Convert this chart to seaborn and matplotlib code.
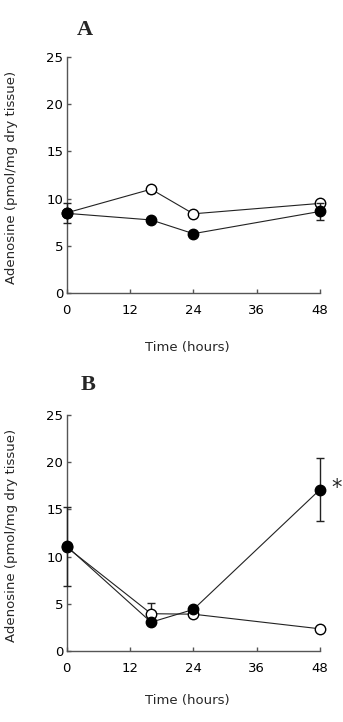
"""Adenosine content over time, panels A and B."""

import matplotlib

matplotlib.use("Agg")
import matplotlib.pyplot as plt
import pandas as pd
import seaborn as sns

# time points (hours)
time_h = [0, 16, 24, 48]

# panel A
a_open = [8.5, 11.0, 8.4, 9.5]
a_open_err = [0.3, 0.35, 0.3, 0.3]
a_filled = [8.45, 7.75, 6.3, 8.65]
a_filled_err = [1.05, 0.2, 0.2, 0.9]

# panel B
b_open = [11.0, 3.95, 3.9, 2.35]
b_open_err = [0.3, 1.1, 0.2, 0.2]
b_filled = [11.1, 3.05, 4.4, 17.1]
b_filled_err = [4.2, 0.2, 0.2, 3.35]

x_ticks = [0, 12, 24, 36, 48]
y_ticks = [0, 5, 10, 15, 20, 25]

sns.set_style("ticks")
plt.rcParams["font.family"] = ["DejaVu Sans"]

W, H = 343, 722
FS = 9.5
fig = plt.figure(figsize=(W / 100, H / 100), dpi=100)


def draw_panel(ax, open_vals, open_err, filled_vals, filled_err, xlab_y):
    df = pd.DataFrame(
        {"time": time_h, "open": open_vals, "filled": filled_vals}
    )
    # open series first, filled drawn on top
    ax.errorbar(time_h, open_vals, yerr=open_err, fmt="none", ecolor="#222222",
                elinewidth=1.0, capsize=3, capthick=1.0, clip_on=False, zorder=2)
    sns.lineplot(data=df, x="time", y="open", ax=ax, color="#222222", lw=0.8,
                 marker="o", ms=7.5, markerfacecolor="white",
                 markeredgecolor="black", markeredgewidth=1.0,
                 clip_on=False, zorder=3)
    ax.errorbar(time_h, filled_vals, yerr=filled_err, fmt="none", ecolor="#222222",
                elinewidth=1.0, capsize=3, capthick=1.0, clip_on=False, zorder=4)
    sns.lineplot(data=df, x="time", y="filled", ax=ax, color="#222222", lw=0.8,
                 marker="o", ms=7.5, markerfacecolor="black",
                 markeredgecolor="black", markeredgewidth=1.0,
                 clip_on=False, zorder=5)

    ax.set_xlim(0, 48)
    ax.set_ylim(0, 25)
    ax.set_xticks(x_ticks)
    ax.set_yticks(y_ticks)
    sns.despine(ax=ax)
    for side in ("left", "bottom"):
        ax.spines[side].set_color("#555555")
        ax.spines[side].set_linewidth(1.0)
    ax.tick_params(axis="both", direction="in", length=3, width=1.0,
                   color="#555555", labelsize=FS, labelcolor="black")
    ax.tick_params(axis="x", pad=8)
    ax.tick_params(axis="y", pad=2.5)

    ax.set_xlabel("Time (hours)", fontsize=FS)
    ax.xaxis.label.set_va("center")
    ax.xaxis.set_label_coords(0.475, xlab_y)
    ax.set_ylabel("Adenosine (pmol/mg dry tissue)", fontsize=FS)
    ax.yaxis.label.set_va("center")
    ax.yaxis.set_label_coords(-0.216, 0.49)


ax_a = fig.add_axes([66.7 / W, 428.7 / H, 253.3 / W, 236.6 / H])
draw_panel(ax_a, a_open, a_open_err, a_filled, a_filled_err, -0.231)

ax_b = fig.add_axes([66.7 / W, 71 / H, 253.3 / W, 236 / H])
draw_panel(ax_b, b_open, b_open_err, b_filled, b_filled_err, -0.208)

# significance mark next to the 48 h filled point
ax_b.annotate("*", xy=(48, b_filled[-1]), xytext=(12, 1), textcoords="offset points",
              ha="center", va="center", fontsize=15, annotation_clip=False)

panel_font = ["Liberation Serif", "DejaVu Serif"]
fig.text(85 / W, 1 - 30 / H, "A", family=panel_font, fontsize=16, weight="bold",
         ha="center", va="center")
fig.text(88 / W, 1 - 385 / H, "B", family=panel_font, fontsize=16, weight="bold",
         ha="center", va="center")

fig.savefig("out.png", dpi=100)
plt.close(fig)
